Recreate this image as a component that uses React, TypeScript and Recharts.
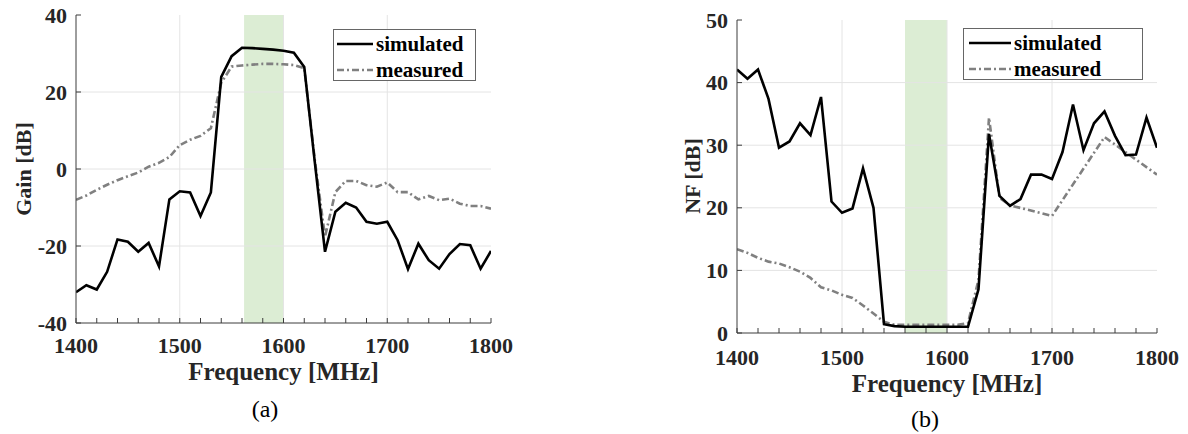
import { LineChart, Line, XAxis, YAxis, ReferenceArea, ReferenceLine, Legend } from 'recharts';

// x values (MHz), 10 MHz steps
const freq = [
  1400, 1410, 1420, 1430, 1440, 1450, 1460, 1470, 1480, 1490,
  1500, 1510, 1520, 1530, 1540, 1550, 1560, 1570, 1580, 1590,
  1600, 1610, 1620, 1630, 1640, 1650, 1660, 1670, 1680, 1690,
  1700, 1710, 1720, 1730, 1740, 1750, 1760, 1770, 1780, 1790, 1800,
];

// (a) Gain [dB]
const gainSim = [
  -32.0, -30.2, -31.3, -26.7, -18.3, -18.9, -21.5, -19.2, -25.3, -7.9,
  -5.8, -6.1, -12.2, -6.1, 23.9, 29.3, 31.5, 31.4, 31.2, 31.0,
  30.7, 30.2, 26.5, 2.2, -21.5, -11.1, -8.8, -10.0, -13.7, -14.2,
  -13.7, -18.5, -26.0, -19.4, -23.7, -25.9, -22.1, -19.5, -19.8, -25.9, -21.3,
];
const gainMeas = [
  -8.0, -6.9, -5.4, -4.1, -2.9, -1.9, -0.9, 0.6, 1.6, 3.1,
  6.2, 7.6, 8.6, 10.6, 22.4, 26.6, 26.9, 27.1, 27.3, 27.3,
  27.2, 27.0, 26.2, 2.7, -17.6, -6.0, -3.1, -3.1, -4.2, -4.6,
  -3.5, -6.0, -6.0, -7.9, -7.0, -8.1, -7.7, -9.0, -9.6, -9.6, -10.3,
];

// (b) NF [dB]
const nfSim = [
  42.1, 40.6, 42.1, 37.4, 29.6, 30.6, 33.5, 31.6, 37.7, 21.0,
  19.2, 19.9, 26.3, 20.0, 1.4, 1.1, 1.0, 1.0, 1.0, 1.0,
  1.0, 1.0, 1.0, 7.0, 31.8, 21.9, 20.3, 21.4, 25.3, 25.3,
  24.6, 28.9, 36.5, 29.2, 33.5, 35.4, 31.5, 28.4, 28.5, 34.4, 29.6,
];
const nfMeasFreq = [
  1400, 1410, 1420, 1430, 1440, 1450, 1460, 1470, 1480, 1490,
  1500, 1510, 1520, 1530, 1540, 1550, 1560, 1570, 1580, 1590,
  1600, 1610, 1620, 1630, 1640, 1650, 1660, 1700, 1750, 1800,
];
const nfMeas = [
  13.4, 12.8, 12.0, 11.4, 11.1, 10.5, 9.8, 8.8, 7.3, 6.8,
  6.1, 5.6, 4.4, 3.1, 1.8, 1.3, 1.3, 1.3, 1.3, 1.3,
  1.3, 1.3, 1.6, 8.5, 34.4, 21.6, 20.4, 18.7, 31.3, 25.3,
];

const xMinorTicks = [
  1400, 1420, 1440, 1460, 1480, 1500, 1520, 1540, 1560, 1580, 1600,
  1620, 1640, 1660, 1680, 1700, 1720, 1740, 1760, 1780, 1800,
];
const xGrid = [1500, 1600, 1700];
const gainTicks = [-40, -20, 0, 20, 40];
const nfTicks = [0, 10, 20, 30, 40, 50];

const serif = '"Liberation Serif", "Times New Roman", serif';
const axisColor = '#3c3c3c';
const textColor = '#262626';
const gridColor = '#e4e4e4';
const bandColor = '#dcedd4';

const rows = (xs: number[], ys: number[]) => xs.map((f, i) => ({ f, v: ys[i] }));

const BottomTick = ({ x, y, payload, dy }: any) => (
  <g>
    <line x1={x} x2={x} y1={y} y2={y - 5} stroke={axisColor} />
    {payload.value % 100 === 0 && (
      <text x={x} y={y + dy} textAnchor="middle" fontFamily={serif} fontWeight={700} fontSize={22} fill={textColor}>
        {payload.value}
      </text>
    )}
  </g>
);

const TopTick = ({ x, y }: any) => <line x1={x} x2={x} y1={y} y2={y + 5} stroke={axisColor} />;

const LeftTick = ({ x, y, payload }: any) => (
  <g>
    <line x1={x} x2={x + 5} y1={y} y2={y} stroke={axisColor} />
    <text x={x - 9} y={y + 7.5} textAnchor="end" fontFamily={serif} fontWeight={700} fontSize={22} fill={textColor}>
      {payload.value}
    </text>
  </g>
);

const RightTick = ({ x, y }: any) => <line x1={x} x2={x - 5} y1={y} y2={y} stroke={axisColor} />;

const LegendBox = ({ width, lineW, indent }: { width: number; lineW: number; indent: number }) => {
  const item = (label: string, color: string, dash?: string) => (
    <div style={{ display: 'flex', alignItems: 'center', height: 26 }}>
      <svg width={lineW} height={10} style={{ marginLeft: indent, marginRight: 3 }}>
        <line x1={0} x2={lineW} y1={5} y2={5} stroke={color} strokeWidth={2.6} strokeDasharray={dash} />
      </svg>
      <span style={{ fontFamily: serif, fontWeight: 700, fontSize: 21, color: '#000', lineHeight: '26px' }}>{label}</span>
    </div>
  );
  return (
    <div style={{ width, height: 52, border: '1px solid #666', background: '#fff', boxSizing: 'border-box', paddingTop: 1 }}>
      {item('simulated', '#000')}
      {item('measured', '#808080', '7 3 2 3')}
    </div>
  );
};

type PanelProps = {
  left: number;
  width: number;
  margin: { top: number; right: number; bottom: number; left: number };
  yDomain: [number, number];
  yTicks: number[];
  band: [number, number];
  sim: { f: number; v: number }[];
  meas: { f: number; v: number }[];
  tickDy: number;
  legend: { left: number; top: number; width: number; lineW: number; indent: number };
};

const Panel = ({ left, width, margin, yDomain, yTicks, band, sim, meas, tickDy, legend }: PanelProps) => (
  <div style={{ position: 'absolute', left, top: 0 }}>
    <LineChart width={width} height={434} margin={margin}>
      <XAxis
        dataKey="f"
        type="number"
        domain={[1400, 1800]}
        ticks={xMinorTicks}
        interval={0}
        height={40}
        tickLine={false}
        tickSize={0}
        tickMargin={0}
        axisLine={{ stroke: axisColor }}
        tick={(p: any) => <BottomTick {...p} dy={tickDy} />}
        allowDataOverflow
      />
      <XAxis
        xAxisId="top"
        orientation="top"
        dataKey="f"
        type="number"
        domain={[1400, 1800]}
        ticks={xMinorTicks}
        interval={0}
        height={0}
        tickLine={false}
        tickSize={0}
        tickMargin={0}
        axisLine={{ stroke: axisColor }}
        tick={TopTick}
        allowDataOverflow
      />
      <YAxis
        type="number"
        domain={yDomain}
        ticks={yTicks}
        interval={0}
        width={40}
        tickLine={false}
        tickSize={0}
        tickMargin={0}
        axisLine={{ stroke: axisColor }}
        tick={LeftTick}
        allowDataOverflow
      />
      <YAxis
        yAxisId="r"
        orientation="right"
        type="number"
        domain={yDomain}
        ticks={yTicks}
        interval={0}
        width={0}
        tickLine={false}
        tickSize={0}
        tickMargin={0}
        axisLine={{ stroke: axisColor }}
        tick={RightTick}
        allowDataOverflow
      />
      {xGrid.map((v) => (
        <ReferenceLine key={'gx' + v} x={v} stroke={gridColor} />
      ))}
      {yTicks.slice(1, -1).map((v) => (
        <ReferenceLine key={'gy' + v} y={v} stroke={gridColor} />
      ))}
      <ReferenceArea x1={band[0]} x2={band[1]} fill={bandColor} fillOpacity={1} stroke="none" />
      <Legend
        layout="horizontal"
        verticalAlign="middle"
        align="center"
        wrapperStyle={{ left: legend.left, top: legend.top, width: legend.width, height: 52 }}
        content={() => <LegendBox width={legend.width} lineW={legend.lineW} indent={legend.indent} />}
      />
      <Line data={meas} dataKey="v" type="linear" stroke="#808080" strokeWidth={2.6} strokeDasharray="7 3 2 3" dot={false} isAnimationActive={false} />
      <Line data={sim} dataKey="v" type="linear" stroke="#000" strokeWidth={2.6} dot={false} isAnimationActive={false} />
    </LineChart>
  </div>
);

export default function App() {
  return (
    <div style={{ position: 'absolute', left: 0, top: 0, width: 1188, height: 434, background: '#fff', overflow: 'hidden' }}>
      <Panel
        left={0}
        width={520}
        margin={{ top: 15, right: 29, bottom: 71, left: 36 }}
        yDomain={[-40, 40]}
        yTicks={gainTicks}
        band={[1562, 1600]}
        sim={rows(freq, gainSim)}
        meas={rows(freq, gainMeas)}
        tickDy={30}
        legend={{ left: 333, top: 29, width: 143, lineW: 36, indent: 3 }}
      />
      <Panel
        left={620}
        width={568}
        margin={{ top: 20, right: 31, bottom: 61, left: 77 }}
        yDomain={[0, 50]}
        yTicks={nfTicks}
        band={[1560, 1600]}
        sim={rows(freq, nfSim)}
        meas={rows(nfMeasFreq, nfMeas)}
        tickDy={32}
        legend={{ left: 343, top: 28, width: 180, lineW: 42, indent: 5 }}
      />
      <svg width={1188} height={434} style={{ position: 'absolute', left: 0, top: 0, pointerEvents: 'none' }}>
        <g fontFamily={serif} fill={textColor}>
          <text x={23} y={169} transform="rotate(-90 23 169)" textAnchor="middle" dominantBaseline="central" fontWeight={700} fontSize={22}>
            Gain [dB]
          </text>
          <text x={283.5} y={380} textAnchor="middle" fontWeight={700} fontSize={25}>
            Frequency [MHz]
          </text>
          <text x={265} y={417} textAnchor="middle" fontSize={24} fill="#000">
            (a)
          </text>
          <text x={692} y={176} transform="rotate(-90 692 176)" textAnchor="middle" dominantBaseline="central" fontWeight={700} fontSize={22}>
            NF [dB]
          </text>
          <text x={947} y={392} textAnchor="middle" fontWeight={700} fontSize={25}>
            Frequency [MHz]
          </text>
          <text x={925} y={427} textAnchor="middle" fontSize={24} fill="#000">
            (b)
          </text>
        </g>
      </svg>
    </div>
  );
}
